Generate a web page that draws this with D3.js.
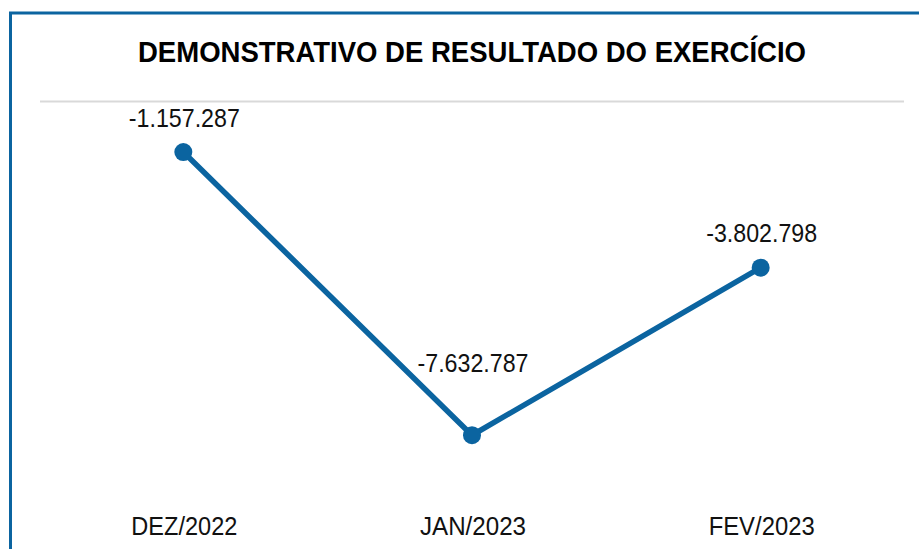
<!DOCTYPE html>
<html>
<head>
<meta charset="utf-8">
<script src="https://cdn.jsdelivr.net/npm/d3@7"></script>
<style>
  body { margin: 0; background: #fff; }
  svg { display: block; font-family: "Liberation Sans", Arial, sans-serif; }
</style>
</head>
<body>
<svg id="chart"></svg>
<script>
const title = "DEMONSTRATIVO DE RESULTADO DO EXERCÍCIO"
const months = ["DEZ/2022", "JAN/2023", "FEV/2023"]
const results = [-1157287, -7632787, -3802798]
const labelLift = [25, 63, 26]

const W = 919, H = 549
const blue = "#0b64a0"

const svg = d3.select("#chart").attr("width", W).attr("height", H)

// frame (only top and left edges are visible in the crop)
svg.append("path")
  .attr("d", "M10.5," + H + " V13 H" + W)
  .attr("fill", "none")
  .attr("stroke", blue)
  .attr("stroke-width", 3)

const x = d3.scalePoint().domain(months).range([39, 905]).padding(0.5)
const y = d3.scaleLinear().domain([-9000000, 0]).range([495, 101.4])

// title
svg.append("text")
  .attr("x", 472)
  .attr("y", 62)
  .attr("text-anchor", "middle")
  .attr("font-size", 29)
  .attr("font-weight", "bold")
  .attr("fill", "#000")
  .attr("textLength", 668)
  .attr("lengthAdjust", "spacingAndGlyphs")
  .text(title)

// zero gridline
svg.append("line")
  .attr("x1", 40).attr("x2", 904)
  .attr("y1", Math.round(y(0)) + 0.5).attr("y2", Math.round(y(0)) + 0.5)
  .attr("stroke", "#d9d9d9")
  .attr("stroke-width", 2)

// category labels
svg.append("g")
  .selectAll("text")
  .data(months)
  .enter()
  .append("text")
  .attr("x", function (d) { return x(d) + 1 })
  .attr("y", 535)
  .attr("text-anchor", "middle")
  .attr("font-size", 25)
  .attr("fill", "#111")
  .attr("textLength", 106)
  .attr("lengthAdjust", "spacingAndGlyphs")
  .text(function (d) { return d })

// line
const line = d3.line()
  .x(function (d, i) { return x(months[i]) })
  .y(function (d) { return y(d) })

svg.append("path")
  .datum(results)
  .attr("d", line)
  .attr("fill", "none")
  .attr("stroke", blue)
  .attr("stroke-width", 5.5)

svg.append("g")
  .selectAll("circle")
  .data(results)
  .enter()
  .append("circle")
  .attr("cx", function (d, i) { return x(months[i]) })
  .attr("cy", function (d) { return y(d) })
  .attr("r", 9)
  .attr("fill", blue)

// value labels, pt-BR style thousand separators
const fmt = d3.formatLocale({ decimal: ",", thousands: ".", grouping: [3], currency: ["R$", ""], minus: "-" }).format(",d")

svg.append("g")
  .selectAll("text")
  .data(results)
  .enter()
  .append("text")
  .attr("x", function (d, i) { return x(months[i]) + 1 })
  .attr("y", function (d, i) { return y(d) - labelLift[i] })
  .attr("text-anchor", "middle")
  .attr("font-size", 25)
  .attr("fill", "#111")
  .attr("textLength", 111)
  .attr("lengthAdjust", "spacingAndGlyphs")
  .text(function (d) { return fmt(d) })
</script>
</body>
</html>
